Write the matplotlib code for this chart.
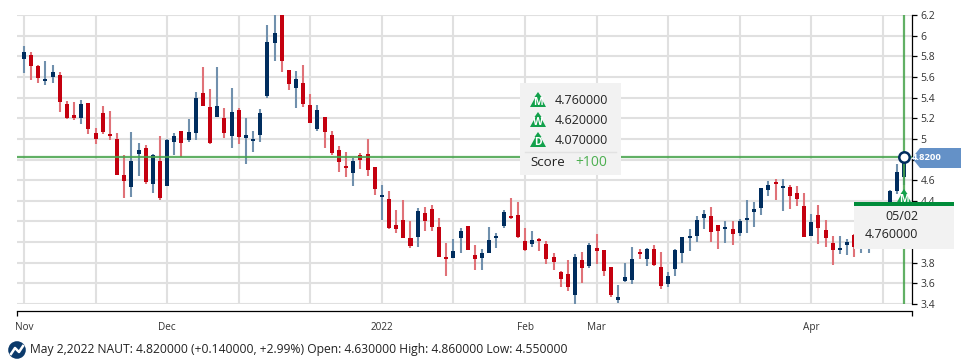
import matplotlib
matplotlib.use("Agg")
import matplotlib.pyplot as plt
from matplotlib.patches import Polygon, Rectangle, Circle

plt.rcParams['font.family'] = ['Open Sans', 'DejaVu Sans']

# daily prices (117-120 sit behind the tooltip, guessed)
opens = [5.77, 5.81, 5.71, 5.56, 5.60, 5.62, 5.34, 5.23, 5.20, 5.35,
         5.06, 5.25, 5.05, 5.00, 4.65, 4.53, 4.85, 4.91, 4.56, 4.79,
         4.54, 4.97, 5.08, 4.99, 5.06, 5.44, 5.31, 5.21, 5.20, 5.03,
         5.28, 5.01, 4.98, 5.04, 5.42, 5.93, 6.35, 5.67, 5.49, 5.54,
         5.33, 5.10, 5.21, 5.04, 4.89, 4.74, 4.67, 4.84, 4.85, 4.73,
         4.44, 4.42, 4.17, 4.21, 4.04, 4.05, 4.28, 4.32, 4.15, 3.86,
         3.85, 4.04, 4.16, 3.87, 3.85, 3.89, 4.04, 4.16, 4.25, 4.26,
         4.01, 3.98, 4.03, 3.98, 3.86, 3.71, 3.69, 3.49, 3.83, 3.77,
         3.94, 3.92, 3.76, 3.44, 3.62, 3.63, 3.90, 3.84, 3.93, 3.76,
         3.59, 3.74, 3.89, 4.04, 4.06, 4.23, 4.25, 4.17, 4.13, 4.13,
         4.09, 4.21, 4.29, 4.33, 4.50, 4.58, 4.52, 4.53, 4.48, 4.35,
         4.06, 4.26, 4.12, 3.99, 3.92, 3.97, 4.07, 3.96, 3.98, 4.02,
         4.12, 4.28, 4.49, 4.63]
highs = [5.90, 5.84, 5.72, 5.75, 5.72, 5.65, 5.37, 5.36, 5.38, 5.35,
         5.11, 5.32, 5.27, 5.06, 4.84, 5.07, 4.96, 4.94, 4.85, 5.03,
         5.00, 5.06, 5.08, 5.19, 5.45, 5.70, 5.48, 5.70, 5.30, 5.49,
         5.30, 5.20, 5.08, 5.29, 6.10, 6.30, 6.42, 5.67, 5.66, 5.72,
         5.43, 5.33, 5.21, 5.08, 4.93, 4.87, 4.81, 4.86, 5.00, 4.73,
         4.55, 4.49, 4.31, 4.41, 4.20, 4.33, 4.34, 4.36, 4.23, 3.99,
         4.03, 4.14, 4.16, 3.97, 3.93, 4.15, 4.09, 4.31, 4.43, 4.39,
         4.14, 4.11, 4.04, 4.01, 3.89, 3.72, 3.83, 3.88, 3.90, 3.99,
         4.08, 3.92, 3.76, 3.58, 3.80, 3.95, 3.93, 3.94, 3.97, 3.90,
         3.71, 3.93, 4.05, 4.13, 4.25, 4.31, 4.34, 4.17, 4.20, 4.20,
         4.22, 4.41, 4.39, 4.52, 4.59, 4.61, 4.61, 4.55, 4.54, 4.48,
         4.27, 4.36, 4.21, 4.06, 4.06, 4.03, 4.08, 4.05, 4.08, 4.15,
         4.25, 4.50, 4.76, 4.86]
lows = [5.64, 5.57, 5.54, 5.52, 5.54, 5.26, 5.19, 5.18, 5.14, 5.05,
        4.95, 5.05, 4.99, 4.65, 4.43, 4.44, 4.64, 4.56, 4.48, 4.41,
        4.54, 4.84, 4.82, 4.97, 4.99, 5.32, 4.95, 5.21, 5.01, 4.91,
        4.95, 4.76, 4.87, 4.97, 5.40, 5.75, 5.65, 5.47, 5.30, 5.31,
        5.15, 5.08, 4.91, 4.84, 4.68, 4.63, 4.54, 4.71, 4.64, 4.46,
        4.21, 4.13, 4.09, 4.04, 3.94, 3.95, 4.11, 4.11, 3.86, 3.67,
        3.85, 3.89, 3.92, 3.73, 3.73, 3.89, 3.94, 4.14, 4.22, 4.04,
        3.91, 3.95, 3.91, 3.79, 3.73, 3.56, 3.53, 3.39, 3.60, 3.75,
        3.79, 3.67, 3.47, 3.41, 3.61, 3.59, 3.84, 3.77, 3.77, 3.55,
        3.56, 3.67, 3.80, 3.91, 4.00, 4.13, 4.00, 3.93, 3.99, 3.97,
        4.06, 4.09, 4.15, 4.26, 4.45, 4.41, 4.30, 4.32, 4.35, 4.05,
        4.06, 3.98, 3.95, 3.78, 3.88, 3.87, 3.86, 3.89, 3.89, 3.98,
        4.05, 4.22, 4.47, 4.55]
closes = [5.84, 5.71, 5.59, 5.58, 5.65, 5.36, 5.20, 5.20, 5.34, 5.10,
          5.00, 5.07, 5.03, 4.65, 4.59, 4.79, 4.89, 4.58, 4.84, 4.43,
          4.99, 5.03, 4.96, 5.07, 5.40, 5.32, 4.96, 5.32, 5.06, 5.26,
          5.02, 5.04, 5.00, 5.25, 5.94, 6.03, 5.75, 5.53, 5.58, 5.34,
          5.15, 5.28, 5.07, 4.86, 4.78, 4.72, 4.79, 4.80, 4.70, 4.51,
          4.46, 4.14, 4.13, 4.04, 3.96, 4.30, 4.20, 4.15, 3.86, 3.84,
          3.91, 4.11, 3.92, 3.84, 3.89, 4.02, 4.06, 4.29, 4.23, 4.05,
          3.92, 4.02, 4.01, 3.84, 3.81, 3.64, 3.56, 3.86, 3.75, 3.97,
          3.91, 3.72, 3.49, 3.47, 3.66, 3.84, 3.88, 3.93, 3.78, 3.57,
          3.67, 3.92, 4.05, 4.06, 4.21, 4.27, 4.10, 4.11, 4.15, 4.08,
          4.20, 4.23, 4.32, 4.52, 4.55, 4.56, 4.54, 4.45, 4.42, 4.05,
          4.19, 4.14, 4.04, 3.92, 3.94, 4.00, 3.95, 4.00, 4.03, 4.10,
          4.20, 4.49, 4.68, 4.82]

grid_days = list(range(0, 130, 10))
month_days = [0, 20, 50, 70, 80, 110]
month_labels = ['Nov', 'Dec', '2022', 'Feb', 'Mar', 'Apr']
price_ticks = [3.4, 3.6, 3.8, 4.0, 4.2, 4.4, 4.6, 4.8, 5.0, 5.2, 5.4, 5.6, 5.8, 6.0, 6.2]
# these sit behind the price tag and the crosshair label in the reference
covered_ticks = [4.0, 4.2, 4.8]
last_price = 4.82
signals = [('M', '4.760000'), ('W', '4.620000'), ('D', '4.070000')]
score = '+100'
status = 'May 2,2022 NAUT: 4.820000 (+0.140000, +2.99%) Open: 4.630000 High: 4.860000 Low: 4.550000'

NAVY = '#002d5e'
RED = '#c4000f'
GREEN = '#12a14b'
W, H = 970, 364
XMIN, XMAX = -0.98, 124.0

fig = plt.figure(figsize=(W / 100, H / 100), dpi=100)
ax = fig.add_axes([17 / W, 1 - 304 / H, 894.5 / W, 289 / H])

days = range(len(opens))
for d in days:
    up = closes[d] >= opens[d]
    color = NAVY if up else RED
    wick = '#7090ad' if up else '#e07278'
    ax.vlines(d, lows[d], highs[d], color=wick, lw=1.5, zorder=3)
    ax.bar(d, abs(closes[d] - opens[d]), bottom=min(opens[d], closes[d]), width=0.56, color=color, zorder=4)

ax.axhline(last_price, color='#45a34a', lw=1.6, alpha=0.85, zorder=5)
ax.axvline(len(opens) - 1, color='#45a34a', lw=1.6, alpha=0.85, zorder=5)
ax.plot(len(opens) - 1, last_price, 'o', ms=7.5, mfc='white', mec=NAVY, mew=1.8, zorder=6)

ax.set_xlim(XMIN, XMAX)
ax.set_ylim(3.4, 6.2)
ax.set_xticks(month_days)
ax.set_xticklabels(month_labels)
ax.set_xticks([XMIN, XMAX], minor=True)
ax.set_yticks(price_ticks)
ax.set_yticklabels(['' if p in covered_ticks else '%g' % p for p in price_ticks])
ax.yaxis.tick_right()
ax.tick_params(axis='x', which='major', length=0, pad=8, labelsize=7.2, colors='#333333')
ax.tick_params(axis='x', which='minor', length=3.5, width=0.9, color='black')
ax.tick_params(axis='y', length=3.5, width=0.9, pad=3, labelsize=7.5, labelcolor='#333333')
ax.grid(False)
for d in grid_days:
    if d <= 123:
        ax.axvline(d, color='#e0e0e0', lw=1.5, zorder=1)
for p in price_ticks:
    ax.axhline(p, color='#e0e0e0', lw=1.5, zorder=1)
for side in ['top', 'left']:
    ax.spines[side].set_visible(False)
ax.spines['bottom'].set_position(('outward', 5))
ax.spines['bottom'].set_linewidth(0.9)
ax.spines['right'].set_linewidth(0.9)

# everything below is the chart's overlay furniture, in pixels
ui = fig.add_axes([0, 0, 1, 1], zorder=10)
ui.set_xlim(0, W)
ui.set_ylim(H, 0)
ui.axis('off')
ui.patch.set_alpha(0)


def tree_icon(cx, base, letter, zorder=11):
    ui.add_patch(Polygon([(cx, base - 15), (cx + 3.5, base - 10), (cx + 2.5, base - 10), (cx + 8, base),
                          (cx - 8, base), (cx - 2.5, base - 10), (cx - 3.5, base - 10)],
                         color=GREEN, lw=0, zorder=zorder))
    ui.text(cx, base - 4.5, letter, color='white', fontsize=7.5, fontweight='bold', ha='center', va='center', zorder=zorder)


# price tag on the axis
ui.add_patch(Polygon([(912, 158), (920, 148), (961, 148), (961, 168), (920, 168)], color='#6491c7', lw=0))
ui.text(927, 158, '4.8200', color='white', fontsize=6.8, fontweight='bold', ha='center', va='center')

# signal box
ui.add_patch(Rectangle((520, 83), 101, 92, color='#f2f2f2', lw=0))
for n, (letter, value) in enumerate(signals):
    tree_icon(538, 107 + n * 20, letter)
    ui.text(555, 100.5 + n * 20, value, fontsize=9, color='#222222', va='center')
ui.plot([525, 616], [152, 152], color='#e2e2e2', lw=1)
ui.text(530, 163, 'Score', fontsize=9.6, color='#222222', va='center')
ui.text(575, 163, score, fontsize=10, color='#4caf50', va='center')

# crosshair label
tree_icon(904, 204, 'M', zorder=11)
ui.add_patch(Rectangle((854, 202), 100, 47, color='#f2f2f2', lw=0, zorder=12))
ui.add_patch(Rectangle((854, 202), 100, 4, color='#008c3a', lw=0, zorder=13))
ui.text(902, 217, '05/02', fontsize=9, color='#222222', ha='center', va='center', zorder=13)
ui.text(891, 235, '4.760000', fontsize=9, color='#222222', ha='center', va='center', zorder=13)

# status line with logo
ui.add_patch(Circle((17, 350), 8.8, color='#0b3a6b', lw=0))
ui.plot([11, 15, 19, 23], [354, 348, 352, 346], color='white', lw=1.8)
ui.text(30, 350, status, fontsize=8.7, color='#222222', va='center')

plt.savefig('out.png', dpi=100)
plt.close()
